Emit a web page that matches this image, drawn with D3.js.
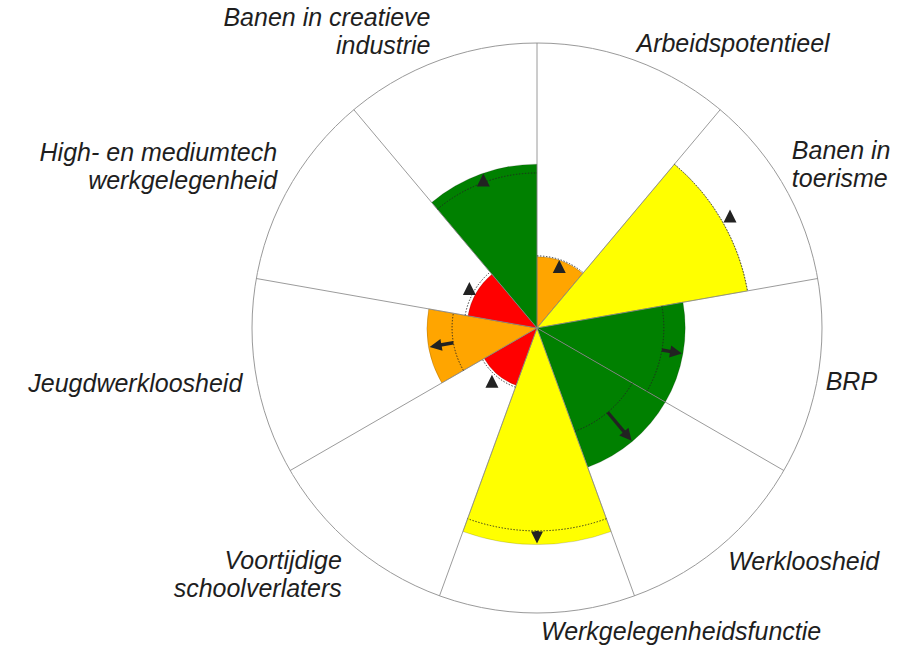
<!DOCTYPE html>
<html>
<head>
<meta charset="utf-8">
<script src="https://cdn.jsdelivr.net/npm/d3@7"></script>
<style>
  html, body { margin: 0; padding: 0; background: #fff; }
  svg text { font-family: "Liberation Sans", Arial, Helvetica, sans-serif; font-style: italic; fill: #1e1e1e; }
</style>
</head>
<body>
<svg id="chart" width="913" height="647"></svg>
<script>
// ---------- DATA ----------
const categories = [
  "Arbeidspotentieel",
  "Banen in toerisme",
  "BRP",
  "Werkloosheid",
  "Werkgelegenheidsfunctie",
  "Voortijdige schoolverlaters",
  "Jeugdwerkloosheid",
  "High- en mediumtech werkgelegenheid",
  "Banen in creatieve industrie"
];
const labelLines = [
  ["Arbeidspotentieel"],
  ["Banen in", "toerisme"],
  ["BRP"],
  ["Werkloosheid"],
  ["Werkgelegenheidsfunctie"],
  ["Voortijdige", "schoolverlaters"],
  ["Jeugdwerkloosheid"],
  ["High- en mediumtech", "werkgelegenheid"],
  ["Banen in creatieve", "industrie"]
];
// current score (0-100)
const values     = [25.0, 75.0, 52.0, 52.0, 76.0, 21.4, 38.6, 24.6, 57.5];
// reference score (dotted arc)
const references = [25.3, 75.0, 44.5, 38.6, 71.2, 22.1, 29.8, 25.6, 54.4];
// performance class
const classes    = ["matig", "gemiddeld", "goed", "goed", "gemiddeld", "slecht", "matig", "slecht", "goed"];
// trend: "up" = significant rise (arrow), "stable" = triangle marker
const trends     = ["stable", "stable", "up", "up", "up", "stable", "up", "stable", "stable"];
// score at which the stable-trend marker sits
const markerScores = [22.8, 78.2, null, null, null, 24.6, null, 27.4, 55.1];

// ---------- STYLE / LAYOUT ----------
const cx = 537, cy = 328, R = 285;
const classColor = { goed: "#008000", gemiddeld: "#ffff00", matig: "#ffa500", slecht: "#ff0000" };
const labelNudge = [[2,-8],[8,-26.5],[8,13],[8,24],[4,27],[-12,22.5],[-14,15],[-13,-24.5],[-9,-34.5]];
const lineH = 28;

const svg = d3.select("#chart");
const g = svg.append("g").attr("transform", `translate(${cx},${cy})`);

const rScale = d3.scaleLinear().domain([0, 100]).range([0, R]);
const aScale = d3.scaleBand().domain(categories).range([0, 2 * Math.PI]).padding(0);
const bw = aScale.bandwidth();
const mid = c => aScale(c) + bw / 2;
const pt = (a, r) => [Math.sin(a) * r, -Math.cos(a) * r];

const rows = categories.map((c, i) => ({
  cat: c, v: values[i], ref: references[i], cls: classes[i], trend: trends[i], mk: markerScores[i], i
}));

// sector fills
const arc = d3.arc().innerRadius(0)
  .startAngle(d => aScale(d.cat)).endAngle(d => aScale(d.cat) + bw)
  .outerRadius(d => rScale(d.v));
g.selectAll("path.sector").data(rows).join("path")
  .attr("class", "sector")
  .attr("d", arc)
  .attr("fill", d => classColor[d.cls])
  .attr("stroke", "rgba(0,0,0,0.22)")
  .attr("stroke-width", 0.7);

// outer circle
g.append("circle").attr("r", R).attr("fill", "none").attr("stroke", "#9a9a9a").attr("stroke-width", 1);

// spokes
g.selectAll("line.spoke").data(categories).join("line")
  .attr("class", "spoke")
  .attr("x1", 0).attr("y1", 0)
  .attr("x2", c => pt(aScale(c), R)[0])
  .attr("y2", c => pt(aScale(c), R)[1])
  .attr("stroke", "#8a8a8a").attr("stroke-opacity", 0.85).attr("stroke-width", 1);

// dotted reference arcs
g.selectAll("path.ref").data(rows).join("path")
  .attr("class", "ref")
  .attr("d", d => {
    const p = d3.path();
    const a0 = aScale(d.cat) - Math.PI / 2, a1 = a0 + bw;
    const r = rScale(d.ref);
    p.moveTo(Math.cos(a0) * r, Math.sin(a0) * r);
    p.arc(0, 0, r, a0, a1);
    return p.toString();
  })
  .attr("fill", "none")
  .attr("stroke", "#222")
  .attr("stroke-width", 0.9)
  .attr("stroke-dasharray", "1.4 1.6");

// trend arrows
const headLen = 12, headW = 6;
rows.filter(d => d.trend === "up").forEach(d => {
  const a = mid(d.cat);
  const r0 = rScale(d.ref), r1 = rScale(d.v) - 1;
  const s = pt(a, r0), e = pt(a, r1 - headLen + 1);
  g.append("line")
    .attr("x1", s[0]).attr("y1", s[1]).attr("x2", e[0]).attr("y2", e[1])
    .attr("stroke", "#222").attr("stroke-width", 3.4);
  const tip = pt(a, r1);
  const base = pt(a, r1 - headLen);
  const nx = Math.cos(a) * headW, ny = Math.sin(a) * headW;
  g.append("path")
    .attr("d", `M${tip[0]},${tip[1]}L${base[0] + nx},${base[1] + ny}L${base[0] - nx},${base[1] - ny}Z`)
    .attr("fill", "#222");
});

// stable markers (triangles)
rows.filter(d => d.trend === "stable" && d.mk != null).forEach(d => {
  const p = pt(mid(d.cat), rScale(d.mk));
  g.append("path")
    .attr("d", "M0,-7L6.5,6L-6.5,6Z")
    .attr("transform", `translate(${p[0]},${p[1]})`)
    .attr("fill", "#222");
});

// labels (one text element per line)
rows.forEach(d => {
  const a = mid(d.cat);
  const p = pt(a, R);
  const anchor = Math.sin(a) < -0.01 ? "end" : "start";
  const [dx, dy] = labelNudge[d.i];
  labelLines[d.i].forEach((ln, k) => {
    svg.append("text")
      .attr("x", cx + p[0] + dx)
      .attr("y", cy + p[1] + dy + k * lineH)
      .attr("text-anchor", anchor)
      .attr("font-size", 25)
      .text(ln);
  });
});
</script>
</body>
</html>
